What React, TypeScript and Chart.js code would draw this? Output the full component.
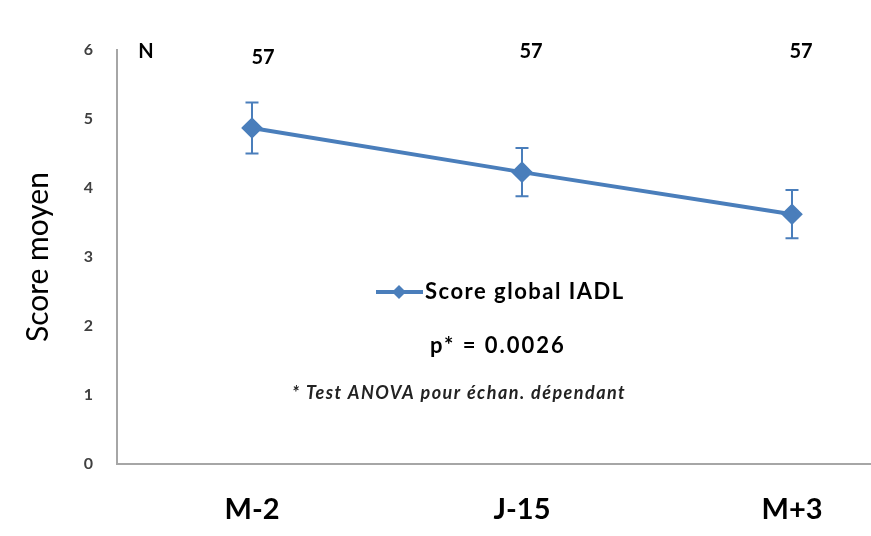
import React, { useEffect, useRef } from "react";
import { Chart, registerables } from "chart.js";

Chart.register(...registerables);

const categories = ["M-2", "J-15", "M+3"];
const meanScores = [4.87, 4.23, 3.62];
const errorValues = [0.37, 0.35, 0.35];
const nValues = [57, 57, 57];
const yTicks = [0, 1, 2, 3, 4, 5, 6];
const seriesLabel = "Score global IADL";
const pValueText = "p* = 0.0026";
const footnoteText = "* Test ANOVA pour échan. dépendant";

const BLUE = "#4A7EBB";
const AXIS = "#A6A6A6";
const FONT = "Lato, 'Open Sans', sans-serif";

const overlayPlugin = {
  id: "overlay",
  beforeDatasetsDraw(chart: any) {
    const ctx = chart.ctx;
    const x = chart.scales.x;
    const y = chart.scales.y;
    const area = chart.chartArea;
    ctx.save();
    ctx.strokeStyle = AXIS;
    ctx.lineWidth = 2;
    ctx.beginPath();
    ctx.moveTo(area.left - 1, area.bottom);
    ctx.lineTo(chart.width, area.bottom);
    ctx.stroke();

    ctx.strokeStyle = BLUE;
    ctx.lineWidth = 2;
    meanScores.forEach((v, i) => {
      const px = x.getPixelForValue(i);
      const top = y.getPixelForValue(v + errorValues[i]);
      const bot = y.getPixelForValue(v - errorValues[i]);
      ctx.beginPath();
      ctx.moveTo(px, top);
      ctx.lineTo(px, bot);
      ctx.moveTo(px - 6.5, top);
      ctx.lineTo(px + 6.5, top);
      ctx.moveTo(px - 6.5, bot);
      ctx.lineTo(px + 6.5, bot);
      ctx.stroke();
    });
    ctx.restore();
  },
  afterDraw(chart: any) {
    const ctx = chart.ctx;
    const x = chart.scales.x;
    const area = chart.chartArea;
    ctx.save();
    ctx.fillStyle = "#000";
    ctx.textBaseline = "middle";
    ctx.textAlign = "center";
    ctx.font = `bold 20px ${FONT}`;
    ctx.fillText("N", area.left + 29, area.top + 2);
    nValues.forEach((n, i) => {
      const px = x.getPixelForValue(i);
      ctx.fillText(String(n), px + (i === 0 ? 11 : 9), area.top + (i === 0 ? 8 : 2));
    });

    const ly = 292;
    ctx.strokeStyle = BLUE;
    ctx.fillStyle = BLUE;
    ctx.lineWidth = 4;
    ctx.beginPath();
    ctx.moveTo(376, ly);
    ctx.lineTo(423, ly);
    ctx.stroke();
    ctx.beginPath();
    ctx.moveTo(399, ly - 7);
    ctx.lineTo(406, ly);
    ctx.lineTo(399, ly + 7);
    ctx.lineTo(392, ly);
    ctx.closePath();
    ctx.fill();

    ctx.fillStyle = "#000";
    ctx.textAlign = "left";
    ctx.font = `bold 22px ${FONT}`;
    (ctx as any).letterSpacing = "1.5px";
    ctx.fillText(seriesLabel, 425, ly);
    ctx.textAlign = "center";
    (ctx as any).letterSpacing = "2px";
    ctx.fillText(pValueText, 498, 346);
    ctx.font = `italic bold 18px ${FONT}`;
    (ctx as any).letterSpacing = "1.45px";
    ctx.fillStyle = "#222";
    ctx.fillText(footnoteText, 459, 393);
    ctx.restore();
  },
};

export default function App() {
  const ref = useRef<HTMLCanvasElement | null>(null);
  useEffect(() => {
    if (!ref.current) return;
    const chart = new Chart(ref.current, {
      type: "line",
      data: {
        datasets: [
          {
            label: seriesLabel,
            data: meanScores.map((v, i) => ({ x: i, y: v })),
            borderColor: BLUE,
            backgroundColor: BLUE,
            borderWidth: 4,
            pointStyle: "rectRot",
            pointRadius: 8,
            pointHoverRadius: 8,
            tension: 0,
          },
        ],
      },
      options: {
        animation: false,
        responsive: true,
        maintainAspectRatio: false,
        layout: { autoPadding: false, padding: { top: 50, right: 0, left: 0, bottom: 0 } },
        plugins: { legend: { display: false }, tooltip: { enabled: false } },
        scales: {
          x: {
            type: "linear",
            min: -0.5,
            max: 2.2926,
            grid: { display: false, drawTicks: false },
            border: { display: false },
            afterBuildTicks: (s: any) => {
              s.ticks = categories.map((_, i) => ({ value: i }));
            },
            afterFit: (s: any) => {
              s.height = 72;
            },
            ticks: {
              autoSkip: false,
              maxRotation: 0,
              padding: 28,
              color: "#000",
              font: { family: FONT, size: 29, weight: "bold" },
              callback: (v: any) => categories[v as number] ?? "",
            },
          },
          y: {
            min: 0,
            max: 6,
            grid: { display: false, drawTicks: false },
            border: { color: AXIS, width: 2 },
            afterBuildTicks: (s: any) => {
              s.ticks = yTicks.map((v) => ({ value: v }));
            },
            afterFit: (s: any) => {
              s.width = 117;
            },
            ticks: {
              padding: 24,
              color: "#404040",
              font: { family: FONT, size: 16, weight: "bold" },
            },
            title: {
              display: true,
              text: "Score moyen",
              color: "#000",
              padding: { top: 20, bottom: 0 },
              font: { family: FONT, size: 30, weight: "normal" },
            },
          },
        },
      },
      plugins: [overlayPlugin],
    });
    return () => chart.destroy();
  }, []);
  return (
    <div style={{ position: "fixed", left: 0, top: 0, width: 871, height: 536, background: "#fff" }}>
      <canvas ref={ref} />
    </div>
  );
}
